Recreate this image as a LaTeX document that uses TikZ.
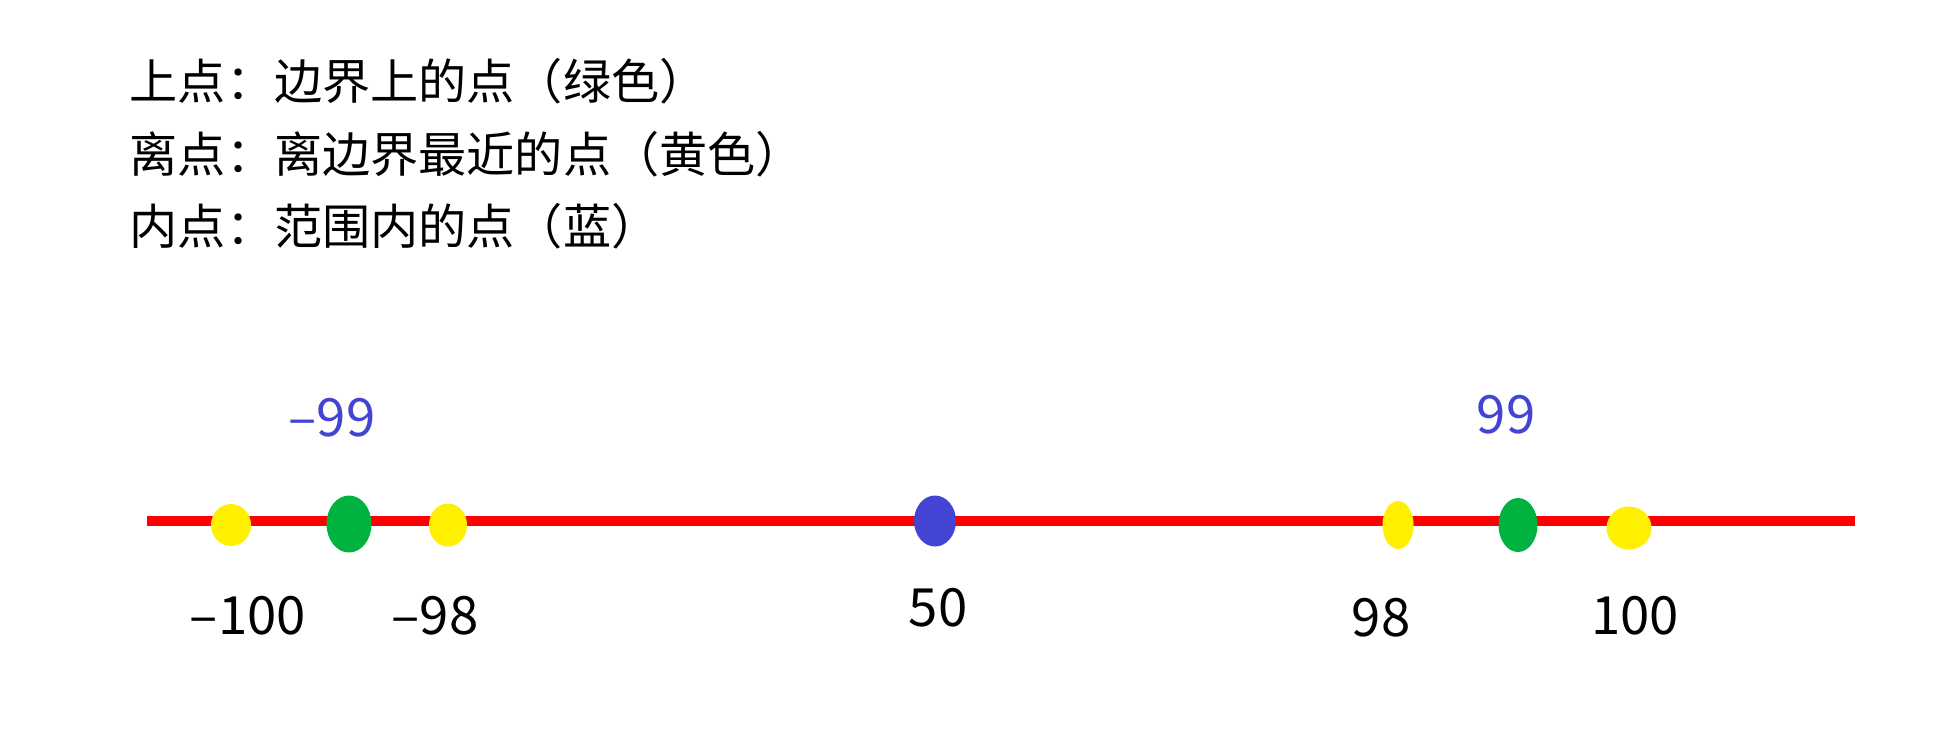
\documentclass[tikz,border=0pt]{standalone}
\usepackage{fontspec}
\setmainfont{Noto Sans CJK SC}
\usetikzlibrary{shapes.geometric}
\definecolor{red}{RGB}{255,0,0}
\definecolor{yel}{RGB}{255,240,0}
\definecolor{grn}{RGB}{0,178,64}
\definecolor{blu}{RGB}{68,68,212}

\begin{document}
\begin{tikzpicture}[x=0.1mm,y=-0.1mm,
  dot/.style 2 args={ellipse,inner sep=0pt,minimum width=#1,minimum height=#2},
  legend/.style={anchor=west,inner sep=0pt,font=\fontsize{13.7pt}{16pt}\selectfont},
  num/.style={inner sep=0pt,font=\fontsize{15pt}{18pt}\selectfont}]
\useasboundingbox (0,0) rectangle (1948,746);

\node[legend] (t1) at (129,81) {上点：边界上的点（绿色）};
\node[legend] (t2) at (129,154) {离点：离边界最近的点（黄色）};
\node[legend] (t3) at (129,226) {内点：范围内的点（蓝）};

\coordinate (L1) at (147,521);
\coordinate (L2) at (1855,521);
\draw[red,line width=1mm] (L1) -- (L2);

\node[dot={4mm}{4.2mm},fill=yel] (Y1) at (231,525) {};
\node[dot={4.5mm}{5.7mm},fill=grn] (G1) at (349,524) {};
\node[dot={3.8mm}{4.3mm},fill=yel] (Y2) at (448,525) {};
\node[dot={4.2mm}{5.1mm},fill=blu] (B) at (935,521) {};
\node[dot={3.1mm}{4.8mm},fill=yel] (Y3) at (1398,525) {};
\node[dot={3.9mm}{5.4mm},fill=grn] (G2) at (1518,525) {};
\node[dot={4.5mm}{4.3mm},fill=yel] (Y4) at (1629,528) {};

\node[num,text=blu] (n1) at (332,418) {–99};
\node[num,text=blu] (n2) at (1506,415) {99};
\node[num] (n3) at (248,616) {–100};
\node[num] (n4) at (435,616) {–98};
\node[num] (n5) at (938,608) {50};
\node[num] (n6) at (1381,618) {98};
\node[num] (n7) at (1635,616) {100};
\end{tikzpicture}
\end{document}
